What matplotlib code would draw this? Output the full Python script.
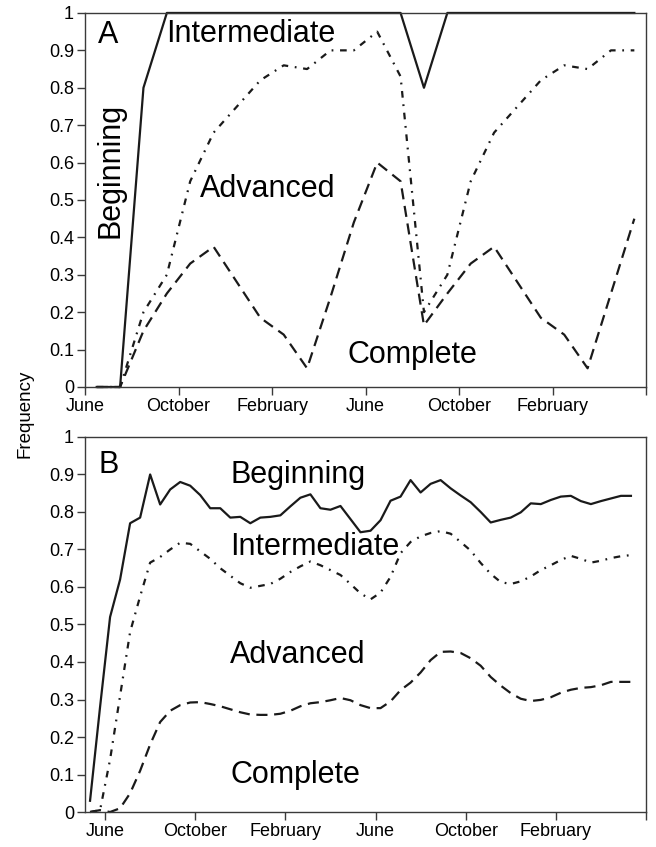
import numpy as np
import matplotlib; matplotlib.use("Agg")
import matplotlib.pyplot as plt

plt.rcParams["font.family"] = ["Liberation Sans", "DejaVu Sans"]

# panel A: monthly values, two years starting June
a_month = np.arange(24) + 0.5
a_beg = [0, 0, 0.8, 1, 1, 1, 1, 1, 1, 1, 1, 1, 1, 1, 0.8, 1, 1, 1, 1, 1, 1, 1, 1, 1]
a_int = [0, 0, 0.2, 0.3, 0.55, 0.68, 0.75, 0.82, 0.86, 0.85, 0.9, 0.9, 0.95, 0.83,
         0.2, 0.3, 0.55, 0.68, 0.75, 0.82, 0.86, 0.85, 0.9, 0.9]
a_adv = [0, 0, 0.15, 0.25, 0.33, 0.375, 0.28, 0.185, 0.14, 0.05, 0.24, 0.44, 0.6, 0.55,
         0.165, 0.25, 0.33, 0.375, 0.28, 0.185, 0.14, 0.05, 0.25, 0.45]

# panel B: roughly fortnightly values
b_month = -0.667 + 0.4444 * np.arange(55)
b_beg = [0.03, 0.28, 0.52, 0.62, 0.77, 0.785, 0.90, 0.82, 0.86, 0.88, 0.87, 0.845, 0.81, 0.81,
         0.785, 0.787, 0.77, 0.785, 0.787, 0.791, 0.815, 0.838, 0.847, 0.81, 0.806, 0.816,
         0.781, 0.746, 0.75, 0.778, 0.83, 0.841, 0.885, 0.852, 0.875, 0.885, 0.863, 0.844,
         0.826, 0.80, 0.772, 0.779, 0.785, 0.799, 0.823, 0.821, 0.832, 0.841, 0.843, 0.829,
         0.821, 0.829, 0.836, 0.843, 0.843]
b_int = [0.0, 0.005, 0.14, 0.31, 0.48, 0.575, 0.665, 0.68, 0.70, 0.718, 0.715, 0.695, 0.675,
         0.65, 0.63, 0.61, 0.598, 0.603, 0.608, 0.622, 0.64, 0.655, 0.668, 0.658, 0.645,
         0.632, 0.608, 0.583, 0.567, 0.585, 0.627, 0.69, 0.72, 0.735, 0.744, 0.749, 0.742,
         0.72, 0.697, 0.664, 0.635, 0.613, 0.608, 0.615, 0.628, 0.645, 0.658, 0.672, 0.683,
         0.675, 0.665, 0.670, 0.677, 0.682, 0.685]
b_adv = [0.0, 0.005, 0.0, 0.01, 0.05, 0.11, 0.18, 0.24, 0.27, 0.285, 0.292, 0.293, 0.288,
         0.282, 0.274, 0.266, 0.26, 0.259, 0.259, 0.262, 0.27, 0.282, 0.29, 0.293, 0.298,
         0.304, 0.298, 0.285, 0.277, 0.277, 0.295, 0.325, 0.345, 0.372, 0.405, 0.427, 0.428,
         0.424, 0.41, 0.39, 0.36, 0.337, 0.317, 0.302, 0.296, 0.299, 0.306, 0.318, 0.326,
         0.331, 0.333, 0.338, 0.347, 0.347, 0.347]

tick_pos = [0, 4, 8, 12, 16, 20, 24]
tick_lab = ["June", "October", "February", "June", "October", "February", ""]
yt = np.round(np.arange(0, 1.01, 0.1), 1)
ylab = ["0"] + [f"{v:g}" for v in yt[1:-1]] + ["1"]

LC = "#1a1a1a"; SC = "#3a3a3a"; LW = 1.6
fig = plt.figure(figsize=(6.56, 8.47), dpi=100)
axA = fig.add_axes([0.1296, 0.5431, 0.8552, 0.4416])
axB = fig.add_axes([0.1296, 0.0413, 0.8552, 0.4428])

def style(ax, xlo):
    ax.set_xlim(xlo, 24); ax.set_ylim(0, 1)
    ax.set_xticks(tick_pos); ax.set_xticklabels(tick_lab)
    ax.set_yticks(yt); ax.set_yticklabels(ylab)
    ax.tick_params(direction="out", length=6, width=1, color=SC, labelsize=13, pad=2)
    for s in ax.spines.values():
        s.set_color(SC); s.set_linewidth(1)

for ax, x, ys, xlo in [(axA, a_month, (a_beg, a_int, a_adv), 0),
                       (axB, b_month, (b_beg, b_int, b_adv), -0.89)]:
    ax.plot(x, ys[0], "-", color=LC, lw=LW, clip_on=False)
    ax.plot(x, ys[1], color=LC, lw=LW, ls=(0, (3, 3, 0.8, 3)), clip_on=False)
    ax.plot(x, ys[2], color=LC, lw=LW, ls=(0, (5, 3)), clip_on=False)
    style(ax, xlo)

fs = 22
axA.text(0.56, 0.92, "A", fontsize=fs, va="baseline")
axA.text(3.47, 0.922, "Intermediate", fontsize=fs, va="baseline")
axA.text(1.1, 0.58, "Beginning", fontsize=fs, rotation=90, ha="center", va="center")
axA.text(4.92, 0.508, "Advanced", fontsize=fs, va="baseline")
axA.text(11.21, 0.064, "Complete", fontsize=fs, va="baseline")

axB.text(-0.31, 0.904, "B", fontsize=fs, va="baseline")
axB.text(5.56, 0.877, "Beginning", fontsize=fs, va="baseline")
axB.text(5.56, 0.685, "Intermediate", fontsize=fs, va="baseline")
axB.text(5.56, 0.397, "Advanced", fontsize=fs, va="baseline")
axB.text(5.56, 0.077, "Complete", fontsize=fs, va="baseline")

fig.text(0.038, 0.512, "Frequency", rotation=90, ha="center", va="center", fontsize=13.5)
fig.savefig("out.png", dpi=100)
